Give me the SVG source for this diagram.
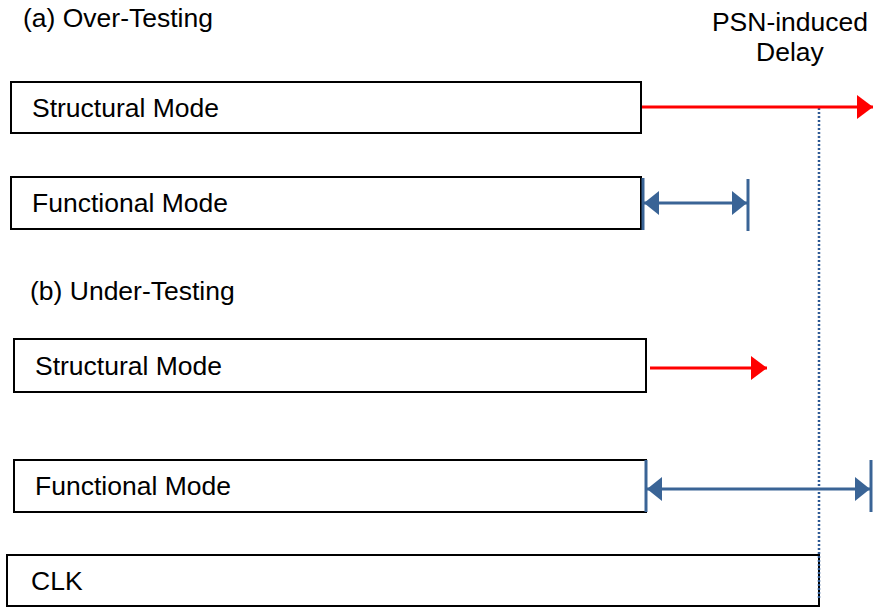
<svg xmlns="http://www.w3.org/2000/svg" width="875" height="608" viewBox="0 0 875 608">
  <style>
    .box { fill: #fff; stroke: #000; stroke-width: 2; }
    .lbl { font-family: "Liberation Sans", Arial, sans-serif; font-size: 26.5px; fill: #000; }
    .red { stroke: #ff0000; stroke-width: 3; fill: none; }
    .blue { stroke: #3a6496; stroke-width: 3; fill: none; }
    .bar { stroke: #3a6496; stroke-width: 3; }
  </style>
  <defs>
    <marker id="redHead" viewBox="0 0 16 24" refX="16" refY="12" markerWidth="16" markerHeight="24" markerUnits="userSpaceOnUse" orient="auto">
      <path d="M0,0 L16,12 L0,24 Z" fill="#ff0000"/>
    </marker>
    <marker id="blueHead" viewBox="0 0 15 24" refX="15" refY="12" markerWidth="15" markerHeight="24" markerUnits="userSpaceOnUse" orient="auto-start-reverse">
      <path d="M0,0 L15,12 L0,24 Z" fill="#3a6496"/>
    </marker>
  </defs>

  <text class="lbl" x="23" y="27">(a) Over-Testing</text>
  <text class="lbl" x="30" y="300">(b) Under-Testing</text>
  <text class="lbl" x="790" y="31" text-anchor="middle">PSN-induced</text>
  <text class="lbl" x="790" y="61" text-anchor="middle">Delay</text>

  <g id="structural-a">
    <rect class="box" x="11" y="82" width="630" height="51"/>
    <text class="lbl" x="32" y="117">Structural Mode</text>
  </g>
  <g id="functional-a">
    <rect class="box" x="11" y="177" width="630" height="52"/>
    <text class="lbl" x="32" y="212">Functional Mode</text>
  </g>
  <g id="structural-b">
    <rect class="box" x="14" y="339" width="632" height="53"/>
    <text class="lbl" x="35" y="375">Structural Mode</text>
  </g>
  <g id="functional-b">
    <rect class="box" x="14" y="460" width="632" height="52"/>
    <text class="lbl" x="35" y="495">Functional Mode</text>
  </g>
  <g id="clk">
    <rect class="box" x="7" y="555" width="812" height="51"/>
    <text class="lbl" x="31" y="590">CLK</text>
  </g>

  <g id="connectors">
    <!-- PSN delay reference line -->
    <line x1="819" y1="108" x2="819" y2="598" stroke="#2f5a94" stroke-width="2.5" stroke-dasharray="2,2"/>
    <!-- over-testing -->
    <line class="red" x1="642" y1="107" x2="873" y2="107" marker-end="url(#redHead)"/>
    <line class="bar" x1="643" y1="178" x2="643" y2="230"/>
    <line class="bar" x1="748" y1="179" x2="748" y2="231"/>
    <line class="blue" x1="644" y1="203" x2="747" y2="203" marker-start="url(#blueHead)" marker-end="url(#blueHead)"/>
    <!-- under-testing -->
    <line class="red" x1="650" y1="368" x2="767" y2="368" marker-end="url(#redHead)"/>
    <line class="bar" x1="646" y1="460" x2="646" y2="512"/>
    <line class="bar" x1="871" y1="460" x2="871" y2="512"/>
    <line class="blue" x1="647" y1="489" x2="870" y2="489" marker-start="url(#blueHead)" marker-end="url(#blueHead)"/>
  </g>
</svg>
